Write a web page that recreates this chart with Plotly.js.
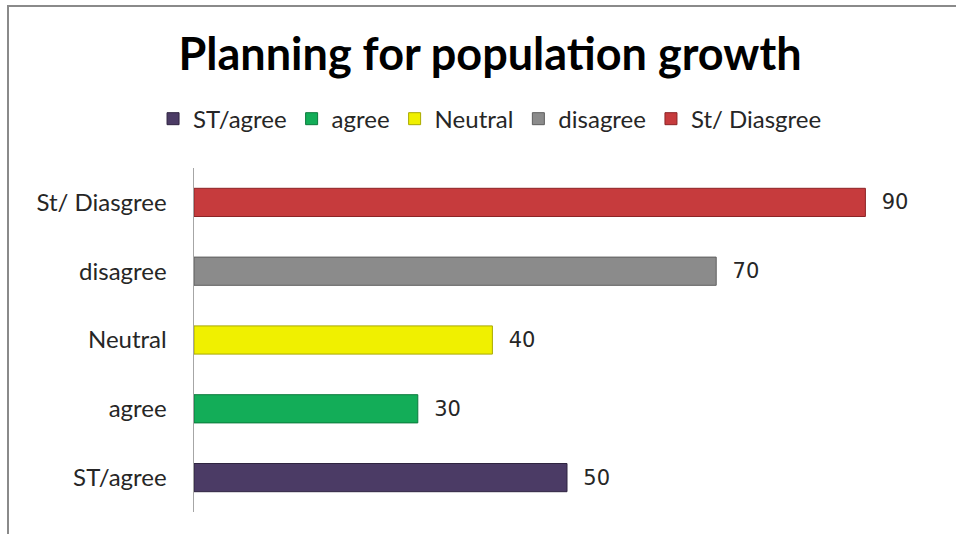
<!DOCTYPE html>
<html>
<head>
<meta charset="utf-8">
<script src="https://cdn.plot.ly/plotly-3.0.1.min.js"></script>
<style>
  html, body { margin: 0; padding: 0; background: #fff; }
  #wrap { position: relative; width: 956px; height: 534px; }
  #chart { position: absolute; left: 0; top: 0; width: 956px; height: 534px; }
  #frame { position: absolute; left: 7px; top: 5px; width: 960px; height: 540px;
           border-top: 2px solid #8a8a8a; border-left: 2px solid #8a8a8a; pointer-events: none; }
</style>
</head>
<body>
<div id="wrap">
  <div id="chart"></div>
  <div id="frame"></div>
</div>
<script>
const categories = ["ST/agree", "agree", "Neutral", "disagree", "St/ Diasgree"];
const values = [50, 30, 40, 70, 90];
const colors = ["#4b3b65", "#13ad58", "#f0f000", "#8b8b8b", "#c63b3d"];
const edgeColors = ["#2f2440", "#0b7a3c", "#a9a900", "#5e5e5e", "#8c2426"];
const titleText = "Planning for population growth";

const traces = categories.map((c, i) => ({
  type: "bar",
  orientation: "h",
  name: c,
  y: [c],
  x: [values[i]],
  width: 0.41,
  marker: { color: colors[i], line: { color: edgeColors[i], width: 1 } },
  texttemplate: "\u00a0\u00a0%{x}",
  textposition: "outside",
  cliponaxis: false,
  textfont: { family: "DejaVu Sans", size: 21, color: "#262626" },
  hoverinfo: "skip"
}));

const layout = {
  width: 956,
  height: 534,
  paper_bgcolor: "#ffffff",
  plot_bgcolor: "#ffffff",
  margin: { l: 194, r: 16, t: 168, b: 22 },
  barmode: "overlay",
  showlegend: true,
  title: {
    text: "<b>" + titleText + "</b>",
    font: { family: "Lato", size: 45, color: "#000" },
    xref: "container", yref: "container",
    x: 0.5126, xanchor: "center",
    y: 0.899, yanchor: "middle"
  },
  legend: {
    orientation: "h",
    xref: "container", yref: "container",
    x: 0.5126, xanchor: "center",
    y: 0.777, yanchor: "middle",
    font: { family: "Lato", size: 24, color: "#262626" },
    itemwidth: 30,
    traceorder: "normal"
  },
  xaxis: {
    range: [0, 100],
    visible: false,
    fixedrange: true
  },
  yaxis: {
    type: "category",
    categoryorder: "array",
    categoryarray: categories,
    range: [-0.5, 4.5],
    showline: true,
    linecolor: "#a6a6a6",
    linewidth: 1.5,
    showgrid: false,
    zeroline: false,
    ticks: "",
    ticklabelstandoff: 21,
    tickfont: { family: "Lato", size: 24, color: "#262626" },
    fixedrange: true
  }
};

Plotly.newPlot("chart", traces, layout, { displayModeBar: false, staticPlot: true });
</script>
</body>
</html>
